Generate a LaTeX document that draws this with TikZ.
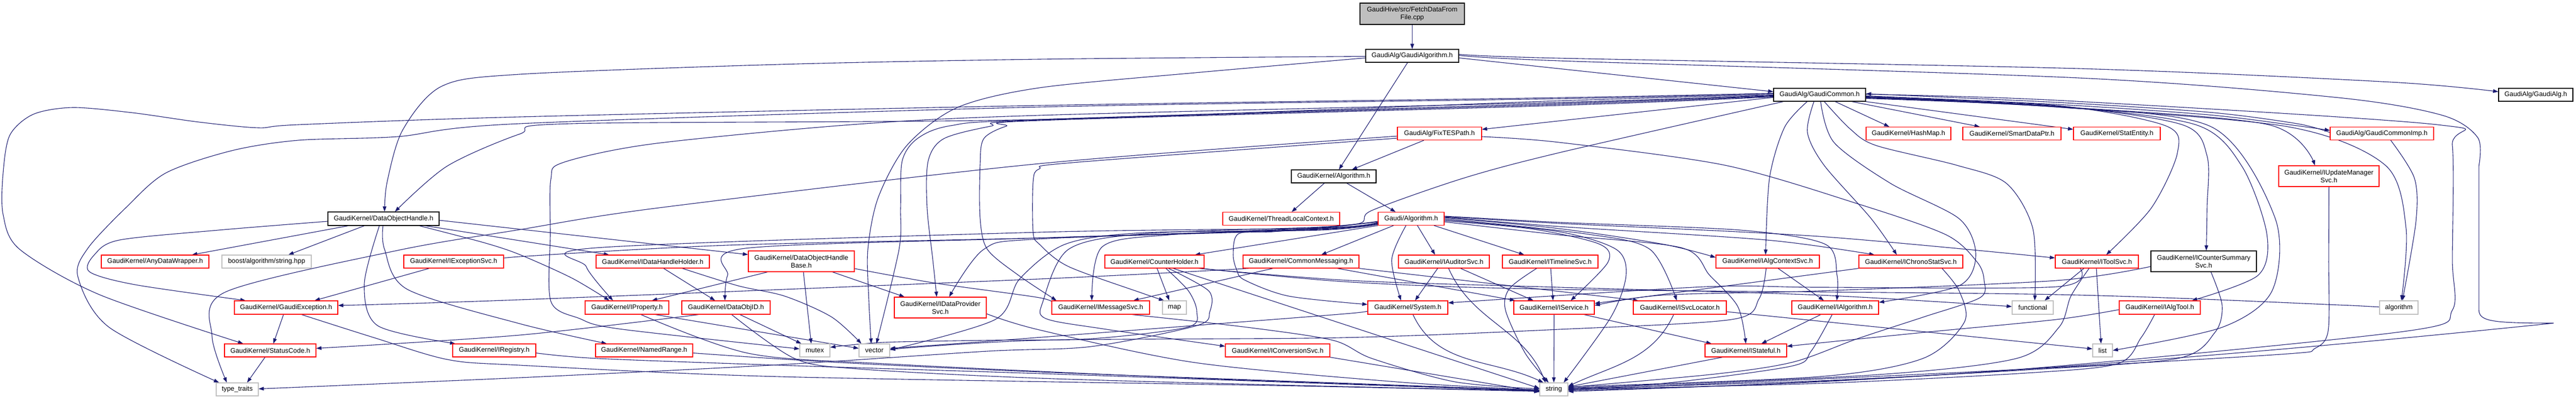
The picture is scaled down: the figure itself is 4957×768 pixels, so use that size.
\documentclass[tikz,border=0pt]{standalone}
\usepackage{fontspec}
\setmainfont{Liberation Sans}
\usetikzlibrary{arrows.meta}
\pgfdeclarelayer{bg}
\pgfsetlayers{bg,main}
\definecolor{edgec}{HTML}{191970}
\definecolor{grayb}{HTML}{BFBFBF}
\tikzset{
 box/.style={rectangle, inner sep=0pt, line width=1.2pt, align=center, font={\fontsize{12.9pt}{15pt}\selectfont}, fill=white},
 blk/.style={box, draw=black},
 rd/.style={box, draw=red},
 gr/.style={box, draw=grayb},
 e/.style={draw=edgec, line width=1.1pt, -{Triangle[length=10pt,width=7pt]}},
}
\newcommand{\nd}[6]{\node[#1, minimum width=#4pt, minimum height=#5pt] (#2) at (#3) {#6};}
\begin{document}
\begin{tikzpicture}[x=1pt,y=-1pt]
\useasboundingbox (0,0) rectangle (4957,768);
\begin{pgfonlayer}{bg}
\fill[white] (0,0) rectangle (4957,768);
\end{pgfonlayer}
% ---------------- nodes
\nd{box, draw=black, fill=grayb}{fetch}{2717.5,26.5}{201}{41}{GaudiHive/src/FetchDataFrom\\File.cpp}
\nd{blk}{galgorithm}{2717.5,107.5}{179}{25}{GaudiAlg/GaudiAlgorithm.h}
\nd{blk}{gcommon}{3501.5,182.5}{177}{25}{GaudiAlg/GaudiCommon.h}
\nd{blk}{galg}{4879.5,182.5}{143}{25}{GaudiAlg/GaudiAlg.h}
\nd{rd}{fixtes}{2770,257}{162}{25}{GaudiAlg/FixTESPath.h}
\nd{rd}{hashmap}{3672.5,257}{163}{25}{GaudiKernel/HashMap.h}
\nd{rd}{smartdataptr}{3871.5,257}{189}{25}{GaudiKernel/SmartDataPtr.h}
\nd{rd}{statentity}{4073.5,257}{167}{25}{GaudiKernel/StatEntity.h}
\nd{rd}{gcommonimp}{4583.5,257}{199}{25}{GaudiAlg/GaudiCommonImp.h}
\nd{blk}{kalgorithm}{2566.5,339.5}{163}{25}{GaudiKernel/Algorithm.h}
\nd{rd}{iupdate}{4481.5,339}{193}{40}{GaudiKernel/IUpdateManager\\Svc.h}
\nd{blk}{doh}{738,421}{214}{26}{GaudiKernel/DataObjectHandle.h}
\nd{rd}{threadlocal}{2465.5,421}{225}{25}{GaudiKernel/ThreadLocalContext.h}
\nd{rd}{gaudialgorithm}{2715.5,421}{127}{25}{Gaudi/Algorithm.h}
\nd{rd}{anydata}{298.5,503.5}{207}{25}{GaudiKernel/AnyDataWrapper.h}
\nd{gr}{boost}{513,503.5}{172}{25}{boost/algorithm/string.hpp}
\nd{rd}{iexception}{873,503.5}{192}{25}{GaudiKernel/IExceptionSvc.h}
\nd{rd}{idhh}{1256,503.5}{218}{25}{GaudiKernel/IDataHandleHolder.h}
\nd{rd}{dohbase}{1542,503}{204}{40}{GaudiKernel/DataObjectHandle\\Base.h}
\nd{rd}{counterholder}{2221.5,503.5}{191}{25}{GaudiKernel/CounterHolder.h}
\nd{rd}{commonmsg}{2503.5,503.5}{223}{25}{GaudiKernel/CommonMessaging.h}
\nd{rd}{iauditor}{2778.5,503.5}{175}{25}{GaudiKernel/IAuditorSvc.h}
\nd{rd}{itimeline}{2983,503.5}{184}{25}{GaudiKernel/ITimelineSvc.h}
\nd{rd}{ialgcontext}{3401.5,503.5}{199}{25}{GaudiKernel/IAlgContextSvc.h}
\nd{rd}{ichrono}{3677,503.5}{200}{25}{GaudiKernel/IChronoStatSvc.h}
\nd{rd}{itoolsvc}{4035,503.5}{160}{25}{GaudiKernel/IToolSvc.h}
\nd{blk}{icountersum}{4240.5,503}{203}{40}{GaudiKernel/ICounterSummary\\Svc.h}
\nd{rd}{gexception}{550.5,592}{199}{26}{GaudiKernel/GaudiException.h}
\nd{rd}{iproperty}{1206.5,592}{161}{26}{GaudiKernel/IProperty.h}
\nd{rd}{dataobjid}{1397,592}{170}{26}{GaudiKernel/DataObjID.h}
\nd{rd}{idataprov}{1809.5,592}{177}{40}{GaudiKernel/IDataProvider\\Svc.h}
\nd{rd}{imessage}{2118,592}{188}{26}{GaudiKernel/IMessageSvc.h}
\nd{gr}{map}{2260,592}{46}{26}{map}
\nd{rd}{system}{2709,592}{154}{26}{GaudiKernel/System.h}
\nd{rd}{iservice}{2990.5,592}{155}{26}{GaudiKernel/IService.h}
\nd{rd}{isvclocator}{3232.5,592}{179}{26}{GaudiKernel/ISvcLocator.h}
\nd{rd}{ialgorithm}{3531.5,592}{167}{26}{GaudiKernel/IAlgorithm.h}
\nd{gr}{functional}{3911.5,592}{79}{26}{functional}
\nd{rd}{ialgtool}{4156,592}{156}{26}{GaudiKernel/IAlgTool.h}
\nd{gr}{algorithm}{4616,592}{74}{26}{algorithm}
\nd{rd}{statuscode}{520,674.5}{176}{25}{GaudiKernel/StatusCode.h}
\nd{rd}{iregistry}{951,674.5}{160}{25}{GaudiKernel/IRegistry.h}
\nd{rd}{namedrange}{1239.5,674.5}{187}{25}{GaudiKernel/NamedRange.h}
\nd{gr}{mutex}{1568,674.5}{58}{25}{mutex}
\nd{gr}{vector}{1682.5,674.5}{59}{25}{vector}
\nd{rd}{iconversion}{2458.5,674.5}{201}{25}{GaudiKernel/IConversionSvc.h}
\nd{rd}{istateful}{3359.5,674.5}{157}{25}{GaudiKernel/IStateful.h}
\nd{gr}{list}{4046,674.5}{38}{25}{list}
\nd{gr}{typetraits}{456.5,749.5}{81}{25}{type\_traits}
\nd{gr}{string}{2990,749.5}{54}{25}{string}
% ---------------- edges
\begin{pgfonlayer}{bg}
% top
\draw[e] (fetch) -- (galgorithm);
\draw[e] ([yshift=-4pt]galgorithm.east) -- ([yshift=6pt]gcommon.west);
\draw[e] plot[smooth] coordinates {([yshift=3pt]galgorithm.east) (3000,112) (4000,132) (4600,158) ([yshift=6pt]galg.west)};
\draw[e] plot[smooth] coordinates {([yshift=1pt]galgorithm.east) (3000,117) (4000,150) (4500,188) (4700,222) (4768,265) (4770,320)} -- (4770,595) .. controls (4770,618) and (4790,622) .. (4914,622) .. controls (4400,675) and (3700,737) .. ([yshift=-2pt]string.east);
\draw[e] ([xshift=-9pt]galgorithm.south) -- ([xshift=10pt]kalgorithm.north);
\draw[e] plot[smooth] coordinates {([yshift=-1pt]galgorithm.west) (2000,114) (1500,124) (1000,143) (850,166) (775,250) (745,350) ([xshift=2pt]doh.north)};
\draw[e] plot[smooth] coordinates {([yshift=-4pt]galgorithm.west) (2300,140) (2000,169) (1842,207) (1745,280) (1690,380) (1670,480) (1672,580) ([xshift=-6pt]vector.north)};
% GaudiCommon
\draw[e] ([yshift=-5pt]gcommon.west) -- ([yshift=8pt]fixtes.east);
\draw[e] ([xshift=30pt]gcommon.south) -- ([xshift=-37pt]hashmap.north);
\draw[e] ([xshift=62pt]gcommon.south) -- ([xshift=-62pt]smartdataptr.north);
\draw[e] (gcommon.south east) -- ([yshift=8pt]statentity.west);
\draw[e] plot[smooth] coordinates {([yshift=-2pt]gcommon.east) (3957,201) (4250,221) (4420,242) ([yshift=6pt]gcommonimp.west)};
\draw[e] plot[smooth] coordinates {([yshift=2pt]gcommonimp.west) (4420,238) (4250,216) (3957,197) ([yshift=2pt]gcommon.east)};
\draw[e] plot[smooth] coordinates {([yshift=-4pt]gcommon.east) (3957,203) (4167,242) (4190,294) (4140,400) ([xshift=18pt]itoolsvc.north)};
\draw[e] plot[smooth] coordinates {([yshift=-5pt]gcommon.east) (3957,204) (4199,240) (4247,300) (4247,400) ([xshift=5pt]icountersum.north)};
\draw[e] plot[smooth] coordinates {([yshift=-6pt]gcommon.east) (3957,205) (4225,240) (4314,320) (4362,450) (4345,530) ([xshift=62pt]ialgtool.north)};
\draw[e] plot[smooth] coordinates {([yshift=-7pt]gcommon.east) (3957,206) (4257,245) (4378,420) (4372,560) (4276,630) (list.east)};
\draw[e] plot[smooth] coordinates {([yshift=-3pt]gcommon.east) (3957,205) (4365,240) ([xshift=-27pt]iupdate.north)};
\draw[e] plot[smooth] coordinates {([yshift=-5pt]gcommon.east) (3957,206) (4403,244) (4590,318) (4630,440) ([xshift=5pt]algorithm.north)};
\draw[e] plot[smooth] coordinates {([yshift=1pt]gcommon.east) (3957,193) (4690,240) (4719,280) (4719,500) (4719,597) (4633,637) (3957,705) (3500,735) ([yshift=-4pt]string.east)};
\draw[e] plot[smooth] coordinates {([xshift=-24pt]gcommon.south) (3434,245) (3405,343) ([xshift=-4pt]ialgcontext.north)};
\draw[e] plot[smooth] coordinates {([xshift=-11pt]gcommon.south) (3478,255) (3510,318) (3600,420) ([xshift=-27pt]ichrono.north)};
\draw[e] plot[smooth] coordinates {([xshift=2pt]gcommon.south) (3529,274) (3638,353) (3770,421) (3802,490) (3770,550) ([yshift=10pt]ialgorithm.east)};
\draw[e] plot[smooth] coordinates {([xshift=9pt]gcommon.south) (3560,248) (3610,280) (3765,318) (3861,353) (3912,441) ([xshift=4pt]functional.north)};
\draw[e] plot[smooth] coordinates {([yshift=3pt]gcommon.west) (3000,188) (2000,203) (1000,225) (574,240) (497,246) (383,235) (255,217) (140,207) (64,220) (19,260) (6,333) (6,413) (38,480) (191,567) ([xshift=-52pt]statuscode.north)};
\draw[e] plot[smooth] coordinates {([yshift=2pt]gcommon.west) (3000,190) (2000,206) (1000,238) (765,263) (574,270) (446,290) (319,333) (242,400) (169,478) (150,533) (210,630) ([xshift=-35pt]typetraits.north)};
\draw[e] plot[smooth] coordinates {(gcommon.west) (3000,194) (2000,230) (1100,238) (1000,258) (860,320) ([xshift=22pt]doh.north)};
\draw[e] plot[smooth] coordinates {([yshift=-1pt]gcommon.west) (3000,197) (2000,222) (1638,240) (1255,277) (1083,313) (1060,345) (1059,450) (1060,580) (1115,613) (1191,633) ([yshift=3pt]mutex.west)};
\draw[e] plot[smooth] coordinates {([yshift=-2pt]gcommon.west) (3000,199) (2000,230) (1829,242) (1765,267) (1736,310) (1733,400) (1730,480) ([xshift=4pt]vector.north)};
\draw[e] plot[smooth] coordinates {([yshift=-3pt]gcommon.west) (3000,201) (2000,231) (1906,243) (1816,267) (1786,310) (1784,400) (1795,500) ([xshift=-7pt]idataprov.north)};
\draw[e] plot[smooth] coordinates {([yshift=-4pt]gcommon.west) (3000,203) (2000,232) (1936,243) (1893,267) (1886,317) (1886,420) (1900,480) (1960,530) ([xshift=-85pt]imessage.north)};
\draw[e] plot[smooth] coordinates {([xshift=-70pt]gcommon.south) (3000,294) (2816,343) (2640,405) (2612,431) (2450,446) (2383,450) (2373,490) (2380,520) (2395,539) (2480,570) ([yshift=6pt]system.west)};
% Gaudi/Algorithm
\draw[e] (gaudialgorithm.south west) -- ([xshift=78pt]counterholder.north);
\draw[e] ([xshift=-34pt]gaudialgorithm.south) -- ([xshift=39pt]commonmsg.north);
\draw[e] ([xshift=12pt]gaudialgorithm.south) -- ([xshift=-17pt]iauditor.north);
\draw[e] ([xshift=44pt]gaudialgorithm.south) -- ([xshift=-50pt]itimeline.north);
\draw[e] plot[smooth] coordinates {([xshift=-10pt]gaudialgorithm.south) (2678,500) ([xshift=-13pt]system.north)};
\draw[e] plot[smooth] coordinates {([yshift=-4pt]gaudialgorithm.east) (2950,441) (3078,470) (3094,505) ([xshift=32pt]iservice.north)};
\draw[e] plot[smooth] coordinates {([yshift=-2pt]gaudialgorithm.east) (3000,446) (3110,480) (3129,530) (3100,610) ([xshift=19pt]string.north)};
\draw[e] plot[smooth] coordinates {(gaudialgorithm.east) (3050,450) (3175,480) ([xshift=-6pt]isvclocator.north)};
\draw[e] plot[smooth] coordinates {([yshift=2pt]gaudialgorithm.east) (3000,440) (3200,470) ([yshift=8pt]ialgcontext.west)};
\draw[e] plot[smooth] coordinates {([yshift=3pt]gaudialgorithm.east) (3000,436) (3400,462) ([xshift=-70pt]ichrono.north)};
\draw[e] plot[smooth] coordinates {([yshift=4pt]gaudialgorithm.east) (3000,430) (3500,455) ([yshift=7pt]itoolsvc.west)};
\draw[e] plot[smooth] coordinates {([yshift=5pt]gaudialgorithm.east) (3000,428) (3350,443) (3512,470) (3535,530) ([xshift=3pt]ialgorithm.north)};
\draw[e] plot[smooth] coordinates {([yshift=-6pt]gaudialgorithm.east) (3000,452) (3236,477) (3290,530) (3344,590) (istateful.north)};
\draw[e] plot[smooth] coordinates {([yshift=-6pt]gaudialgorithm.west) (2540,438) (2250,452) (2121,475) ([xshift=-17pt]imessage.north)};
\draw[e] plot[smooth] coordinates {([yshift=-7pt]gaudialgorithm.west) (2540,439) (2000,447) (1147,477) (1128,513) ([xshift=-27pt]iproperty.north)};
\draw[e] plot[smooth] coordinates {([yshift=-8pt]gaudialgorithm.west) (2540,440) (2000,458) (1434,478) (1400,530) ([xshift=-2pt]dataobjid.north)};
\draw[e] plot[smooth] coordinates {([yshift=-9pt]gaudialgorithm.west) (2540,441) (2000,460) (1893,480) ([xshift=17pt]idataprov.north)};
\draw[e] plot[smooth] coordinates {([yshift=-10pt]gaudialgorithm.west) (2540,442) (2000,458) (1400,472) (1000,494) ([yshift=3pt]iexception.east)};
\draw[e] plot[smooth] coordinates {([yshift=-11pt]gaudialgorithm.west) (2540,443) (2200,448) (2050,470) (1962,537) (1915,615) ([yshift=1pt]vector.east)};
\draw[e] plot[smooth] coordinates {([yshift=-5pt]gaudialgorithm.west) (2540,437) (2200,450) (2056,480) (2007,580) (2012,613) (2123,633) ([yshift=8pt]iconversion.west)};
% GaudiKernel/Algorithm.h
\draw[e] ([xshift=25pt]kalgorithm.south) -- ([xshift=-30pt]gaudialgorithm.north);
\draw[e] ([xshift=-18pt]kalgorithm.south) -- ([xshift=20pt]threadlocal.north);
% FixTESPath
\draw[e] ([xshift=-30pt]fixtes.south) -- ([xshift=35pt]kalgorithm.north);
\draw[e] plot[smooth] coordinates {([yshift=-6pt]fixtes.east) (3000,274) (3319,318) (3574,392) (3745,452) (3805,505) (3818,540) (3810,573) (3702,610) (3574,652) (3450,697) (3300,720) ([yshift=4pt]string.east)};
\draw[e] plot[smooth] coordinates {([yshift=-5pt]fixtes.west) (2000,315) (1268,400) (1000,442) (765,482) (434,562) (408,647) ([xshift=-20pt]typetraits.north)};
\draw[e] plot[smooth] coordinates {([yshift=-9pt]fixtes.west) (2064,313) (2000,325) (1988,350) (1988,447) (2000,470) (2056,513) (2200,565) ([xshift=-20pt]map.north)};
% GaudiCommonImp, IUpdateManagerSvc, ICounterSummarySvc
\draw[e] plot[smooth] coordinates {([xshift=17pt]gcommonimp.south) (4646,343) (4649,426) ([xshift=7pt]algorithm.north)};
\draw[e] plot[smooth] coordinates {(iupdate.south) (4481,500) (4480,637) (4454,671) (4403,681) (4000,705) (3600,725) ([yshift=-1pt]string.east)};
\draw[e] plot[smooth] coordinates {([xshift=14pt]icountersum.south) (4276,588) (4262,640) (4190,690) (3900,712) (3500,733) ([yshift=1pt]string.east)};
\draw[e] plot[smooth] coordinates {([yshift=-10pt]icountersum.west) (3957,540) (3500,560) (3200,568) ([yshift=4pt]iservice.east)};
% IToolSvc
\draw[e] ([xshift=-1pt]itoolsvc.south) -- ([xshift=-3pt]list.north);
\draw[e] ([xshift=-25pt]itoolsvc.south) -- ([xshift=23pt]functional.north);
\draw[e] plot[smooth] coordinates {([xshift=-32pt]itoolsvc.south) (3957,552) (3500,553) (3280,552) ([yshift=9pt]system.east)};
\draw[e] plot[smooth] coordinates {([xshift=-15pt]itoolsvc.south) (3985,570) (3962,630) (3880,690) (3600,722) ([yshift=2pt]string.east)};
% IAlgTool
\draw[e] plot[smooth] coordinates {([yshift=-4pt]ialgtool.west) (3957,615) (3700,640) ([yshift=8pt]istateful.east)};
\draw[e] plot[smooth] coordinates {([xshift=-10pt]ialgtool.south) (4120,650) (4075,700) (3900,718) (3500,738) (string.east)};
% IAlgorithm, IAlgContextSvc, IChronoStatSvc
\draw[e] ([xshift=-28pt]ialgorithm.south) -- ([xshift=30pt]istateful.north);
\draw[e] plot[smooth] coordinates {([xshift=-6pt]ialgorithm.south) (3485,676) (3446,705) (3200,738) ([yshift=3pt]string.east)};
\draw[e] ([xshift=20pt]ialgcontext.south) -- ([xshift=-22pt]ialgorithm.north);
\draw[e] plot[smooth] coordinates {([xshift=-3pt]ialgcontext.south) (3385,575) (3332,615) (3000,634) (2580,650) (2000,655) ([yshift=2pt]vector.east)};
\draw[e] (ichrono.south west) -- ([yshift=8pt]iservice.east);
\draw[e] plot[smooth] coordinates {([xshift=60pt]ichrono.south) (3770,560) (3780,620) (3700,690) (3500,725) ([yshift=5pt]string.east)};
% IService, ISvcLocator, IStateful
\draw[e] (iservice.south) -- (string.north);
\draw[e] ([xshift=58pt]iservice.south) -- ([xshift=-66pt]istateful.north);
\draw[e] ([xshift=-12pt]isvclocator.south) to[out=-115,in=25] ([yshift=6pt]string.east);
\draw[e] ([yshift=-8pt]isvclocator.east) -- ([yshift=3pt]list.west);
\draw[e] ([xshift=-45pt]istateful.south) -- ([yshift=5pt]string.east);
% System, IAuditorSvc, ITimelineSvc
\draw[e] ([xshift=10pt]system.south) to[out=-65,in=155] ([xshift=-20pt]string.north);
\draw[e] plot[smooth] coordinates {([yshift=-5pt]system.west) (2600,603) (2293,627) (1900,657) ([yshift=4pt]vector.east)};
\draw[e] ([xshift=-12pt]iauditor.south) -- ([xshift=14pt]system.north);
\draw[e] ([xshift=32pt]iauditor.south) -- ([xshift=-40pt]iservice.north);
\draw[e] ([xshift=9pt]iauditor.south) to[out=-66,in=112] ([xshift=-16pt]string.north);
\draw[e] ([xshift=1pt]itimeline.south) -- ([xshift=-2pt]iservice.north);
\draw[e] plot[smooth] coordinates {([xshift=-26pt]itimeline.south) (2905,555) (2897,597) (2935,680) ([xshift=-10pt]string.north)};
% CommonMessaging
\draw[e] ([xshift=-54pt]commonmsg.south) -- ([xshift=63pt]imessage.north);
\draw[e] plot[smooth] coordinates {([xshift=-100pt]commonmsg.south) (2000,537) (1000,577) ([yshift=4pt]gexception.east)};
\draw[e] (commonmsg.south east) -- ([xshift=-80pt]isvclocator.north);
\draw[e] ([xshift=70pt]commonmsg.south) -- ([xshift=-75pt]iservice.north);
% CounterHolder
\draw[e] ([xshift=5pt]counterholder.south) -- ([xshift=-10pt]map.north);
\draw[e] plot[smooth] coordinates {([xshift=22pt]counterholder.south) (2287,560) (2303,600) (2284,630) (2100,652) (1900,655) (1700,659) ([yshift=6pt]mutex.east)};
\draw[e] plot[smooth] coordinates {([xshift=27pt]counterholder.south) (2326,560) (2328,600) (2302,627) (2100,667) (1900,676) (1500,702) (1000,727) ([yshift=1pt]typetraits.east)};
\draw[e] ([xshift=36pt]counterholder.south) -- ([yshift=2pt]string.west);
\draw[e] plot[smooth] coordinates {([xshift=85pt]counterholder.south) (2600,540) (3000,553) (3500,568) ([yshift=2pt]functional.west)};
\draw[e] plot[smooth] coordinates {([xshift=90pt]counterholder.south) (2600,543) (3000,557) (3957,567) (4500,587) (algorithm.west)};
% DataObjectHandleBase, IDataHandleHolder
\draw[e] ([xshift=-65pt]dohbase.south) -- ([xshift=48pt]iproperty.north);
\draw[e] ([xshift=4pt]dohbase.south) -- ([xshift=-7pt]mutex.north);
\draw[e] ([xshift=60pt]dohbase.south) -- ([xshift=-69pt]idataprov.north);
\draw[e] plot[smooth] coordinates {([yshift=-14pt]dohbase.east) (1800,545) (2000,573) ([yshift=7pt]imessage.west)};
\draw[e] ([xshift=21pt]idhh.south) -- ([xshift=-21pt]dataobjid.north);
\draw[e] plot[smooth] coordinates {([xshift=57pt]idhh.south) (1420,550) (1510,570) (1600,610) ([xshift=-25pt]vector.north)};
% IProperty, DataObjID, IDataProviderSvc, IMessageSvc, IConversionSvc
\draw[e] ([xshift=55pt]iproperty.south) -- ([yshift=4pt]vector.west);
\draw[e] plot[smooth] coordinates {([xshift=27pt]iproperty.south) (1440,680) (1700,700) (2300,728) ([yshift=-2pt]string.west)};
\draw[e] ([xshift=27pt]dataobjid.south) -- ([xshift=-26pt]mutex.north);
\draw[e] plot[smooth] coordinates {([xshift=11pt]dataobjid.south) (1529,690) (1650,710) (2000,728) (2500,742) ([yshift=-3pt]string.west)};
\draw[e] plot[smooth] coordinates {([xshift=-53pt]dataobjid.south) (1000,645) ([yshift=4pt]statuscode.east)};
\draw[e] plot[smooth] coordinates {([yshift=-12pt]idataprov.east) (2000,635) (2300,698) (2700,736) ([yshift=-1pt]string.west)};
\draw[e] plot[smooth] coordinates {([xshift=61pt]imessage.south) (2400,630) (2565,655) (2640,690) (2800,735) ([yshift=1pt]string.west)};
\draw[e] (iconversion.south east) -- ([yshift=-5pt]string.west);
% GaudiException, StatusCode, IExceptionSvc
\draw[e] ([xshift=-5pt]gexception.south) -- ([xshift=6pt]statuscode.north);
\draw[e] plot[smooth] coordinates {([xshift=30pt]gexception.south) (720,650) (861,692) (1000,703) (1500,725) (2500,743) ([yshift=-4pt]string.west)};
\draw[e] ([xshift=-10pt]statuscode.south) -- ([xshift=19pt]typetraits.north);
\draw[e] ([xshift=-47pt]iexception.south) -- ([xshift=55pt]gexception.north);
% DataObjectHandle
\draw[e] ([xshift=-68pt]doh.south) -- ([xshift=71pt]anydata.north);
\draw[e] ([xshift=-37pt]doh.south) -- ([xshift=42pt]boost.north);
\draw[e] plot[smooth] coordinates {([yshift=-5pt]doh.west) (420,443) (230,462) (182,490) (172,523) (260,548) ([xshift=-78pt]gexception.north)};
\draw[e] plot[smooth] coordinates {([xshift=-8pt]doh.south) (701,547) (727,627) ([xshift=-75pt]iregistry.north)};
\draw[e] plot[smooth] coordinates {([xshift=-1pt]doh.south) (740,480) (784,557) (1000,623) ([xshift=-72pt]namedrange.north)};
\draw[e] plot[smooth] coordinates {([xshift=69pt]doh.south) (931,467) (1000,490) (1100,535) ([xshift=-34pt]iproperty.north)};
\draw[e] ([xshift=81pt]doh.south) -- ([xshift=-84pt]idhh.north);
\draw[e] ([yshift=-3pt]doh.east) -- ([yshift=13pt]dohbase.west);
% NamedRange, IRegistry
\draw[e] plot[smooth] coordinates {([yshift=-5pt]namedrange.east) (1600,697) (2000,716) (2600,738) ([yshift=-2pt]string.west)};
\draw[e] plot[smooth] coordinates {([yshift=-5pt]iregistry.east) (1150,690) (1500,703) (2000,719) (2600,740) ([yshift=-3pt]string.west)};
\end{pgfonlayer}
\end{tikzpicture}
\end{document}
